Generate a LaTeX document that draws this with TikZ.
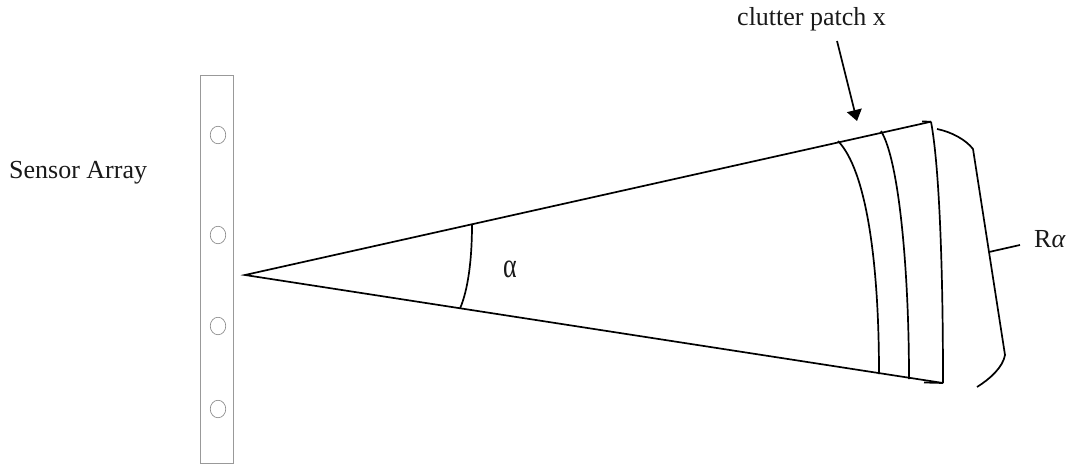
\documentclass[tikz,border=0pt]{standalone}
\usepackage{graphicx}
\usepackage{fontspec}
\setmainfont{Liberation Serif}
\usetikzlibrary{arrows.meta,shapes.geometric}
\tikzset{
  lbl/.style={inner sep=0pt,font=\fontsize{26}{30}\selectfont,text=black!90},
  sensorbox/.style={draw=black!40,line width=0.9pt,minimum width=33pt,minimum height=388pt,inner sep=0pt},
  sensor/.style={ellipse,draw=black!50,line width=0.6pt,minimum width=15.5pt,minimum height=17.5pt,inner sep=0pt},
  beam/.style={draw=black,line width=1.7pt},
  ptr/.style={draw=black,line width=1.7pt,-{Triangle[length=11pt,width=15pt]}}
}
\begin{document}
\begin{tikzpicture}[x=1pt,y=-1pt]
\useasboundingbox (0,0) rectangle (1073,465);
\node[sensorbox] (box) at (216.5,269) {};
\node[sensor] (s1) at (218,135) {};
\node[sensor] (s2) at (218,235) {};
\node[sensor] (s3) at (218,326) {};
\node[sensor] (s4) at (218,409) {};
\coordinate (apex) at (245,275);
\coordinate (top) at (931,121.7);
\coordinate (topf) at (922,121.5);
\coordinate (bot) at (943,383);
\coordinate (botf) at (924,382.5);
\coordinate (a1) at (472,224);
\coordinate (a2) at (460,308.5);
\coordinate (c1t) at (838,141);
\coordinate (c1b) at (879,374);
\coordinate (c2t) at (881,131);
\coordinate (c2b) at (909,379);
\coordinate (b1) at (937,129);
\coordinate (b2) at (973,149);
\coordinate (b3) at (1005,355);
\coordinate (b4) at (977,387);
\coordinate (t1) at (989,252);
\coordinate (t2) at (1020,245);
\draw[beam] (bot) -- (apex) -- (top);
\draw[beam] (topf) -- (top);
\draw[beam] (botf) -- (bot);
\draw[beam] (a1) .. controls (472,260) and (468,290) .. (a2);
\draw[beam] (c1t) .. controls (866,170) and (879,260) .. (c1b);
\draw[beam] (c2t) .. controls (899,160) and (909,270) .. (c2b);
\draw[beam] (top) .. controls (940,170) and (943,280) .. (bot);
\draw[beam] (b1) .. controls (952,132) and (966,140) .. (b2) -- (b3) .. controls (1003,367) and (990,379) .. (b4);
\draw[beam] (t1) -- (t2);
\node[lbl,anchor=base west] (cl) at (737,26) {clutter patch x};
\node[lbl,anchor=base west] (sa) at (9,179) {Sensor Array};
\node[lbl,anchor=base west] (al) at (503,277) {\scalebox{1}[1.35]{α}};
\node[lbl,anchor=base west] (ra) at (1034,247) {R\textit{α}};
\coordinate (ptrs) at (837,41);
\coordinate (ptre) at (857,121);
\draw[ptr] (ptrs) -- (ptre);
\end{tikzpicture}
\end{document}
